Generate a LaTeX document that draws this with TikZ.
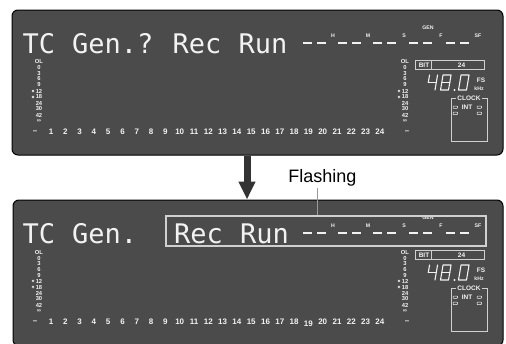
\documentclass[tikz,border=0pt]{standalone}
\usepackage{fontspec}
\setmainfont{Liberation Sans}
\newfontfamily\lcdfont{DejaVu Sans Mono}
\usetikzlibrary{arrows.meta}
\definecolor{panelc}{HTML}{4B4B4B}
\definecolor{txtc}{HTML}{F2F2F2}
\definecolor{framec}{HTML}{D0D0D0}
\definecolor{arrowc}{HTML}{333333}
\definecolor{leadc}{HTML}{9A9A9A}

\tikzset{
  panelbox/.style={draw=black, line width=1, fill=panelc, rounded corners=6, inner sep=0},
  bigtxt/.style={font=\lcdfont\fontsize{27}{28}\selectfont, text=txtc, inner sep=0, anchor=base west},
  sclbl/.style={font=\bfseries\fontsize{5.8}{6}\selectfont, text=txtc, inner sep=0},
  numlbl/.style={font=\bfseries\fontsize{8}{9}\selectfont, text=txtc, inner sep=0},
  tinylbl/.style={font=\bfseries\fontsize{5.2}{6}\selectfont, text=txtc, inner sep=0},
  bitlbl/.style={font=\bfseries\fontsize{6.5}{7}\selectfont, text=txtc, inner sep=0},
  tcdash/.style={draw=txtc, line width=2.2},
  seg/.style={draw=txtc, line width=1.1, line cap=round, line join=round},
  framel/.style={draw=framec, line width=0.9},
  pill/.style={draw=txtc, line width=0.5, rounded corners=0.6},
  bigarrow/.style={draw=arrowc, line width=7, -{Triangle[width=16pt,length=18pt]}},
  leadline/.style={draw=leadc, line width=1},
}

\newcommand\meterscale[2]{%
  \foreach \t/\yy [count=\i] in {OL/62,0/68,3/73.5,6/79,9/85,12/91,18/97,24/103,30/109,42/115,∞/121}{
    \node[sclbl] (#1\i) at (#2,\yy) {\t};}
  \draw[draw=txtc, line width=0.5] (#2-6,91) circle (1.1);
  \draw[draw=txtc, line width=0.5] (#2-6,97) circle (1.1);
}

\newcommand\bottomrow[2]{%
  \node[numlbl] (#1m) at (35,132) {–};
  \foreach \n in {1,...,24}{
    \pgfmathsetmacro\xx{51+(\n-1)*14.3}
    \pgfmathsetmacro\yy{132+(\n==19)*#2}
    \node[numlbl] (#1n\n) at (\xx,\yy) {\n};}
  \node[numlbl] (#1r) at (407,132) {–};
}

\newcommand\timecode[1]{%
  \foreach \s in {303,338,373,409,446}{
    \draw[tcdash] (\s,43) -- (\s+9,43);
    \draw[tcdash] (\s+14,43) -- (\s+23,43);}
  \foreach \l/\xx in {H/333,M/368,S/404,F/441,SF/478}{
    \node[tinylbl] (#1\l) at (\xx,35.5) {\l};}
  \node[tinylbl] (#1gen) at (428,28) {GEN};
}

\newcommand\rightblock[1]{%
  \draw[framel] (415.7,60.7) rectangle (484,69);
  \draw[framel] (431.7,60.7) -- (431.7,69);
  \node[bitlbl] (#1bit) at (424,65) {BIT};
  \node[bitlbl] (#1bits) at (461.5,65) {24};
  % seven segment 48.0
  \begin{scope}[shift={(427,90)}, xslant=0.17]
    \draw[seg] (0,-7.5) -- (0,-15);
    \draw[seg] (0,-7.5) -- (8,-7.5);
    \draw[seg] (8,-15) -- (8,0);
  \end{scope}
  \begin{scope}[shift={(440.5,90)}, xslant=0.17]
    \draw[seg] (0,0) rectangle (8,-15);
    \draw[seg] (0,-7.5) -- (8,-7.5);
  \end{scope}
  \fill[txtc] (454.5,90) circle (1.1);
  \begin{scope}[shift={(458.5,90)}, xslant=0.17]
    \draw[seg] (0,0) rectangle (8,-15);
  \end{scope}
  \node[bitlbl] (#1fs) at (481,80) {FS};
  \node[tinylbl] (#1khz) at (479,88.5) {kHz};
  \draw[framel] (451,98) rectangle (487,141);
  \node[bitlbl, fill=panelc, inner xsep=1.2, inner ysep=0.5] (#1clk) at (469,98) {CLOCK};
  \node[bitlbl] (#1int) at (467,107) {INT};
  \draw[pill] (453,106) rectangle (457.5,108.3);
  \draw[pill] (477,106) rectangle (481.5,108.3);
  \draw[pill] (453,112.2) rectangle (457.5,114.5);
  \draw[pill] (477,112.2) rectangle (481.5,114.5);
}

\begin{document}
\begin{tikzpicture}[x=1pt, y=-1pt]
\useasboundingbox (0,0) rectangle (506,343);
\begin{scope}
\clip (0,0) rectangle (506,343);

% ---- panel 1 ----
\node[panelbox, minimum width=491pt, minimum height=145pt] (p1) at (257.5,82.5) {};
\node[bigtxt] (t1a) at (22.5,53) {TC};
\node[bigtxt] (t1b) at (72,53) {Gen.?};
\node[bigtxt] (t1c) at (172.5,53) {Rec};
\node[bigtxt] (t1d) at (238.5,53) {Run};
\meterscale{ls1}{39}
\meterscale{rs1}{405}
\bottomrow{br1}{0}
\timecode{tc1}
\rightblock{rb1}

% ---- panel 2 ----
\node[panelbox, minimum width=490pt, minimum height=146pt] (p2) at (258,273) {};
\begin{scope}[shift={(0,190)}]
  \node[bigtxt] (t2a) at (22.5,53) {TC};
  \node[bigtxt] (t2b) at (72,53) {Gen.};
  \node[bigtxt] (t2c) at (174,53) {Rec};
  \node[bigtxt] (t2d) at (240,53) {Run};
  \meterscale{ls2}{39}
  \meterscale{rs2}{405}
  \bottomrow{br2}{2}
  \timecode{tc2}
  \rightblock{rb2}
\end{scope}
\node[draw=framec, line width=1.2, minimum width=320pt, minimum height=30pt, inner sep=0] (flashbox) at (326,231) {};
\end{scope}

% ---- arrow and label ----
\coordinate (arrx) at (247,0);
\draw[bigarrow] (p1.south -| arrx) -- (p2.north -| arrx);
\node[font=\fontsize{18}{20}\selectfont, text=black, anchor=base, inner sep=0] (flash) at (322.5,182) {Flashing};
\coordinate (ldtop) at (317,188);
\draw[leadline] (ldtop) -- (ldtop |- flashbox.north);
\end{tikzpicture}
\end{document}
